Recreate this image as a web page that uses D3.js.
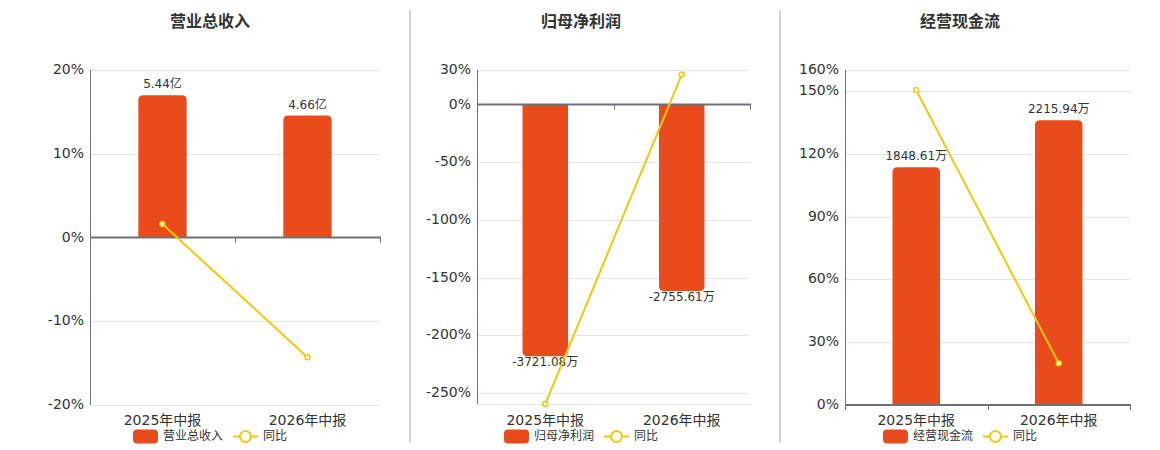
<!DOCTYPE html>
<html>
<head>
<meta charset="utf-8">
<script src="https://cdn.jsdelivr.net/npm/d3@7"></script>
<style>
  body { margin: 0; background: #fff; }
  svg { display: block; font-family: "DejaVu Sans", "Noto Sans CJK SC", sans-serif; }
</style>
</head>
<body>
<svg id="chart"></svg>
<script>
const svg = d3.select("#chart");
const width = 1160;
const height = 450;
svg.attr("width", width).attr("height", height);

// données
const categories = ["2025年中报", "2026年中报"];
const titles = ["营业总收入", "归母净利润", "经营现金流"];
const barValues = [[5.44, 4.66], [-3721.08, -2755.61], [1848.61, 2215.94]];
const barLabels = [["5.44亿", "4.66亿"], ["-3721.08万", "-2755.61万"], ["1848.61万", "2215.94万"]];
const yoyValues = [[1.6, -14.3], [-259.6, 26.0], [150.4, 19.9]];
const yoyTicks = [[-20, -10, 0, 10, 20], [-250, -200, -150, -100, -50, 0, 30], [0, 30, 60, 90, 120, 150, 160]];
const yoyDomains = [[-20, 20], [-259.6, 30], [0, 160]];
// axe caché des barres (zéro aligné sur celui des pourcentages)
const barDomains = [[-6.4, 6.4], [-4430, 517], [0, 2606]];

// mise en page de chaque panneau
const panels = [
  { left: 90, right: 380, top: 70, bottom: 405, center: 210 },
  { left: 477, right: 750, top: 70, bottom: 404, center: 581 },
  { left: 845, right: 1130, top: 70, bottom: 405, center: 960 }
];
const dividers = [410, 780];

const barColor = "#E84C1D";
const lineColor = "#F3C60E";
const axisColor = "#6E7079";
const gridColor = "#E0E6F1";
const textColor = "#333";

// séparateurs verticaux
svg.selectAll(".divider")
  .data(dividers)
  .enter()
  .append("line")
  .attr("x1", d => d).attr("x2", d => d)
  .attr("y1", 10).attr("y2", 443)
  .attr("stroke", "#aaa")
  .attr("stroke-width", 1);

// barre avec coins arrondis à l'extrémité
function barPath(x, w, y0, y1, r) {
  const h = Math.abs(y1 - y0);
  r = Math.min(r, h, w / 2);
  if (y1 < y0) {
    return `M${x},${y0}V${y1 + r}Q${x},${y1} ${x + r},${y1}H${x + w - r}Q${x + w},${y1} ${x + w},${y1 + r}V${y0}Z`;
  }
  return `M${x},${y0}V${y1 - r}Q${x},${y1} ${x + r},${y1}H${x + w - r}Q${x + w},${y1} ${x + w},${y1 - r}V${y0}Z`;
}

panels.forEach((p, i) => {
  const g = svg.append("g");

  const x = d3.scaleBand().domain(categories).range([p.left, p.right]);
  const y = d3.scaleLinear().domain(yoyDomains[i]).range([p.bottom, p.top]);
  const yBar = d3.scaleLinear().domain(barDomains[i]).range([p.bottom, p.top]);
  const zeroY = y(0);

  // titre
  g.append("text")
    .attr("x", p.center)
    .attr("y", 23)
    .attr("text-anchor", "middle")
    .attr("dominant-baseline", "middle")
    .attr("font-family", "Noto Sans CJK SC, sans-serif")
    .attr("font-weight", "bold")
    .attr("font-size", 16)
    .attr("fill", textColor)
    .text(titles[i]);

  // grille
  g.selectAll(".grid")
    .data(yoyTicks[i].filter(t => t !== 0))
    .enter()
    .append("line")
    .attr("x1", p.left).attr("x2", p.right)
    .attr("y1", d => Math.round(y(d)) + 0.5)
    .attr("y2", d => Math.round(y(d)) + 0.5)
    .attr("stroke", gridColor);
  if (yoyDomains[i][0] < yoyTicks[i][0]) {
    g.append("line")
      .attr("x1", p.left).attr("x2", p.right)
      .attr("y1", p.bottom + 0.5).attr("y2", p.bottom + 0.5)
      .attr("stroke", gridColor);
  }

  // étiquettes de l'axe Y
  g.selectAll(".ytick")
    .data(yoyTicks[i])
    .enter()
    .append("text")
    .attr("x", p.left - 6)
    .attr("y", d => y(d))
    .attr("text-anchor", "end")
    .attr("dominant-baseline", "middle")
    .attr("font-size", 14)
    .attr("fill", textColor)
    .text(d => d + "%");

  // ligne de l'axe Y
  g.append("line")
    .attr("x1", p.left + 0.5).attr("x2", p.left + 0.5)
    .attr("y1", p.top).attr("y2", p.bottom)
    .attr("stroke", axisColor);

  // barres
  const bw = x.bandwidth() / 3;
  g.selectAll(".bar")
    .data(barValues[i])
    .enter()
    .append("path")
    .attr("d", (d, j) => {
      const bx = x(categories[j]) + (x.bandwidth() - bw) / 2;
      return barPath(bx, bw, yBar(0), yBar(d), 5);
    })
    .attr("fill", barColor);

  // étiquettes des barres
  g.selectAll(".blabel")
    .data(barValues[i])
    .enter()
    .append("text")
    .attr("x", (d, j) => x(categories[j]) + x.bandwidth() / 2)
    .attr("y", d => d >= 0 ? yBar(d) - 10.5 : yBar(d) + 6.5)
    .attr("text-anchor", "middle")
    .attr("dominant-baseline", "middle")
    .attr("font-size", 12)
    .attr("fill", textColor)
    .text((d, j) => barLabels[i][j]);

  // axe X au niveau du zéro
  g.append("line")
    .attr("x1", p.left).attr("x2", p.right + 1)
    .attr("y1", zeroY).attr("y2", zeroY)
    .attr("stroke", axisColor)
    .attr("stroke-width", 2);
  const bounds = [p.left, p.left + x.bandwidth(), p.right];
  g.selectAll(".xtick")
    .data(bounds)
    .enter()
    .append("line")
    .attr("x1", d => Math.round(d) + 0.5).attr("x2", d => Math.round(d) + 0.5)
    .attr("y1", zeroY).attr("y2", zeroY + 5)
    .attr("stroke", axisColor);

  // étiquettes de l'axe X
  g.selectAll(".xlabel")
    .data(categories)
    .enter()
    .append("text")
    .attr("x", d => x(d) + x.bandwidth() / 2)
    .attr("y", 420.5)
    .attr("text-anchor", "middle")
    .attr("dominant-baseline", "middle")
    .attr("font-size", 14)
    .attr("fill", textColor)
    .text(d => d);

  // courbe du taux de variation
  const line = d3.line()
    .x((d, j) => x(categories[j]) + x.bandwidth() / 2)
    .y(d => y(d));
  g.append("path")
    .datum(yoyValues[i])
    .attr("d", line)
    .attr("fill", "none")
    .attr("stroke", lineColor)
    .attr("stroke-width", 2);
  g.selectAll(".pt")
    .data(yoyValues[i])
    .enter()
    .append("circle")
    .attr("cx", (d, j) => x(categories[j]) + x.bandwidth() / 2)
    .attr("cy", d => y(d))
    .attr("r", 2.5)
    .attr("fill", "#fff")
    .attr("stroke", lineColor)
    .attr("stroke-width", 1.5);

  // légende
  const lg = g.append("g").attr("transform", `translate(${p.center - 77},436.5)`);
  lg.append("rect")
    .attr("x", 0).attr("y", -7)
    .attr("width", 25).attr("height", 14)
    .attr("rx", 4)
    .attr("fill", barColor);
  lg.append("text")
    .attr("x", 30).attr("y", 0)
    .attr("dominant-baseline", "middle")
    .attr("font-size", 12)
    .attr("fill", textColor)
    .text(titles[i]);
  lg.append("line")
    .attr("x1", 100).attr("x2", 125)
    .attr("y1", 0).attr("y2", 0)
    .attr("stroke", lineColor)
    .attr("stroke-width", 2);
  lg.append("circle")
    .attr("cx", 112.5).attr("cy", 0)
    .attr("r", 5.5)
    .attr("fill", "#fff")
    .attr("stroke", lineColor)
    .attr("stroke-width", 2);
  lg.append("text")
    .attr("x", 130).attr("y", 0)
    .attr("dominant-baseline", "middle")
    .attr("font-size", 12)
    .attr("fill", textColor)
    .text("同比");
});
</script>
</body>
</html>
